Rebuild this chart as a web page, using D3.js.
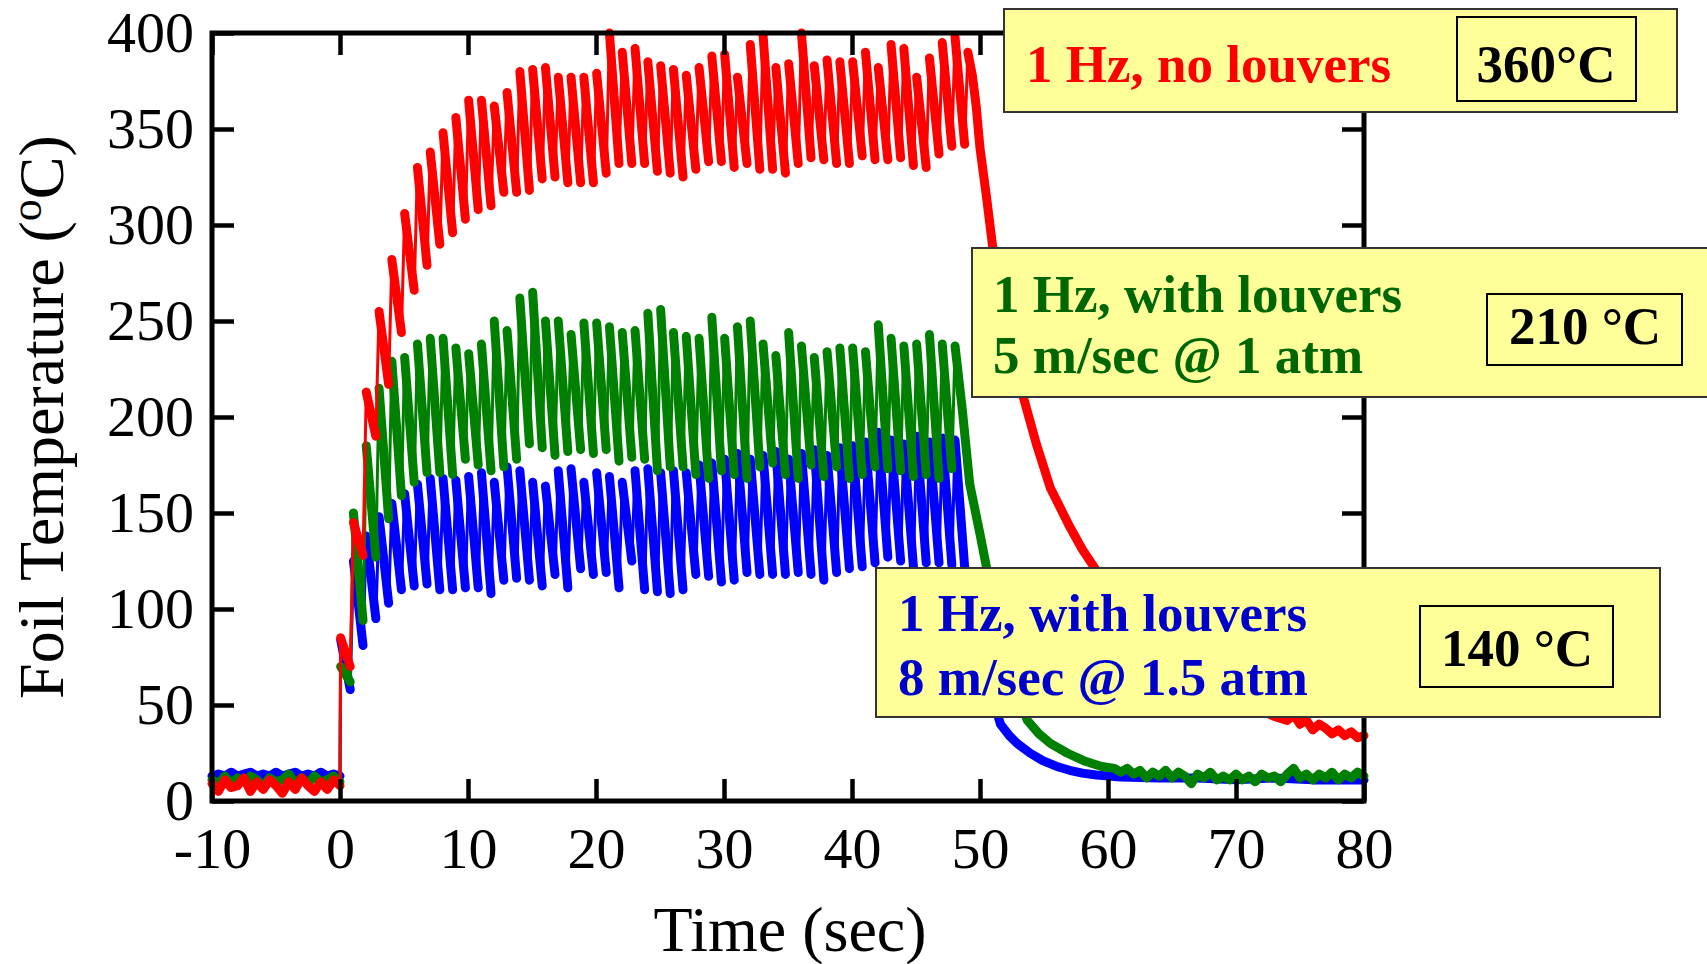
<!DOCTYPE html>
<html>
<head>
<meta charset="utf-8">
<script src="https://cdn.jsdelivr.net/npm/d3@7"></script>
<style>
body{margin:0;background:#fff}
svg{display:block}
</style>
</head>
<body>
<script>
// tick labels
var xTicks = [-10, 0, 10, 20, 30, 40, 50, 60, 70, 80];
var yTicks = [0, 50, 100, 150, 200, 250, 300, 350, 400];

// pre-pulse baseline, sampled every 0.5 s from -10 to 0
var redBase   = [9,5,11,7,8,12,5,10,6,11,8,4,10,6,12,8,5,10,6,11,8];
var greenBase = [11,9,13,9,12,10,13,11,8,12,10,11,14,9,12,9,13,10,11,13,10];
var blueBase  = [13,14,13,15,13,14,15,13,14,13,15,13,14,15,13,14,13,15,13,14,13];

// 1 Hz pulses: peak of each cycle (cycle k starts at t = k s) and the trough it falls to
var redPeaks = [85,145,213,255,282,306,330,338,348,356,
                365,365,362,369,380,381,382,377,377,377,
                379,400,390,392,385,383,381,378,382,388,
                389,377,394,399,382,384,400,383,386,385,
                385,390,382,394,392,377,387,395,398,390];
var redTroughs = [70,128,190,217,244,266,279,290,296,303,
                  308,310,317,317,318,324,325,322,322,322,
                  327,332,332,332,328,327,325,329,333,333,
                  330,332,329,329,327,332,335,334,332,332,
                  336,334,334,335,331,330,337,341,342];

var greenPeaks = [70,150,185,215,229,231,238,241,241,236,
                  233,238,250,245,262,265,250,250,243,249,
                  249,247,244,245,254,256,244,242,241,252,
                  241,247,250,238,232,244,237,231,234,236,
                  236,234,248,241,237,238,243,238,237];
var greenTroughs = [62,94,127,147,159,166,171,171,170,178,
                    175,172,174,178,186,184,180,182,183,181,
                    183,177,179,178,172,174,174,170,168,172,
                    170,168,174,176,170,168,175,169,174,168,
                    170,174,173,172,169,170,168,173];

var bluePeaks = [84,125,138,148,155,160,165,168,168,167,
                 169,171,166,174,172,166,164,172,173,166,
                 171,169,166,172,173,171,172,171,175,176,
                 178,181,178,180,182,178,181,183,180,184,
                 185,187,192,188,186,190,187,189,188];
var blueTroughs = [58,81,95,103,110,112,113,110,110,111,
                   111,108,115,116,115,112,118,111,121,118,
                   119,111,125,110,109,108,110,118,117,114,
                   115,119,118,118,118,119,118,115,119,121,
                   122,124,127,125,122,124,124,123];

// cool-down after the last pulse: [time, temperature]
var redCool = [[49.4,378],[49.7,362],[50.0,340],[50.5,315],[51.0,288],[52.0,250],[52.9,225],
               [53.4,210],[54.4,186],[55.5,163],[57.0,143],[58.0,131],[59.0,121],[60,112],
               [62,97],[64,84],[66,72],[68,62],[70,54],[72,47],[73,44],[74,42],[74.5,45],
               [75,40],[75.5,42],[76,37],[76.5,40],[77,38],[77.5,35],[78,37],[78.5,34],
               [79,36],[79.5,33],[80,34]];
var greenCool = [[48.6,205],[49.2,165],[50.0,139],[50.5,122],[51.2,98],[52.0,75],[52.8,57],
                 [53.7,42],[54.6,35],[55.5,30],[56.8,25],[58.1,21],[59.5,18],[60.5,17],[61,15],
                 [61.5,17],[62,14],[62.5,16],[63,12],[63.5,15],[64,13],[64.5,16],[65,12],
                 [65.5,15],[66,13],[66.5,9],[67,14],[67.5,12],[68,15],[68.5,11],[69,13],
                 [69.5,11],[70,14],[70.5,11],[71,13],[71.5,10],[72,14],[72.5,12],[73,13],
                 [73.5,10],[74,14],[74.5,17],[75,12],[75.5,14],[76,11],[76.5,14],[77,12],
                 [77.5,15],[78,11],[78.5,14],[79,12],[79.5,15],[80,13]];
var blueCool = [[48.8,122],[49.3,108],[50.0,85],[50.8,58],[51.6,40],[52.3,34],[52.9,30],
                [53.9,25],[54.9,21],[56,18],[57.0,16],[58,14.5],[59.1,13.5],[61,12.5],
                [64,12],[67,12],[70,11],[73,12],[76,11],[80,11]];

// annotation boxes
var boxLines  = [["1 Hz, no louvers"], ["1 Hz, with louvers", "5 m/sec @ 1 atm"], ["1 Hz, with louvers", "8 m/sec @ 1.5 atm"]];
var boxTemps  = ["360°C", "210 °C", "140 °C"];
var boxColors = ["#ff0000", "#006600", "#0000cc"];

var W = 1707, H = 964;
var serif = "'Liberation Serif','Times New Roman',serif";

var svg = d3.select("body").append("svg")
    .attr("width", W)
    .attr("height", H);

var x = d3.scaleLinear().domain([-10, 80]).range([212, 1364]);
var y = d3.scaleLinear().domain([0, 400]).range([801, 33]);

var line = d3.line()
    .x(function(d){ return x(d[0]); })
    .y(function(d){ return y(d[1]); });

function build(base, peaks, troughs, cool){
	var bt = d3.range(-10, 0.001, 0.5);
	var basePts = base.map(function(v, i){ return [bt[i], v]; });
	var all = basePts.slice();
	var thick = [basePts];
	peaks.forEach(function(p, i){
		var P = [i + 0.05, p];
		all.push(P);
		if (i < troughs.length){
			var T = [i + 0.8, troughs[i]];
			all.push(T);
			thick.push([P, T]);
		} else {
			all = all.concat(cool);
			thick.push([P].concat(cool));
		}
	});
	return {all: all, thick: thick};
}

var series = [
	{c: "#0000ff", s: build(blueBase, bluePeaks, blueTroughs, blueCool)},
	{c: "#008000", s: build(greenBase, greenPeaks, greenTroughs, greenCool)},
	{c: "#ff0000", s: build(redBase, redPeaks, redTroughs, redCool)}
];

var plot = svg.append("g");
series.forEach(function(sr){
	var g = plot.append("g");
	g.append("path")
		.attr("d", line(sr.s.all))
		.attr("fill", "none")
		.attr("stroke", sr.c)
		.attr("stroke-width", 3)
		.attr("stroke-linejoin", "round");
	g.selectAll("path.seg")
		.data(sr.s.thick)
		.enter().append("path")
		.attr("class", "seg")
		.attr("d", line)
		.attr("fill", "none")
		.attr("stroke", sr.c)
		.attr("stroke-width", 9)
		.attr("stroke-linecap", "round")
		.attr("stroke-linejoin", "round");
});

// axes, ticks point inward on all four sides
function styleAxis(g){
	g.select(".domain").remove();
	g.selectAll(".tick line").attr("stroke", "#000").attr("stroke-width", 4.5);
	g.selectAll(".tick text")
		.attr("fill", "#000")
		.style("font-family", serif)
		.style("font-size", "58px");
}

var fmt = function(d){ return String(d); };

svg.append("g")
    .attr("transform", "translate(0,801)")
    .call(d3.axisBottom(x).tickValues(xTicks).tickSize(-22).tickPadding(26).tickFormat(fmt))
    .call(styleAxis);
svg.append("g")
    .attr("transform", "translate(0,33)")
    .call(d3.axisTop(x).tickValues(xTicks).tickSize(-22).tickFormat(""))
    .call(styleAxis);
svg.append("g")
    .attr("transform", "translate(212,0)")
    .call(d3.axisLeft(y).tickValues(yTicks).tickSize(-22).tickPadding(18).tickFormat(fmt))
    .call(styleAxis);
svg.append("g")
    .attr("transform", "translate(1364,0)")
    .call(d3.axisRight(y).tickValues(yTicks).tickSize(-22).tickFormat(""))
    .call(styleAxis);

svg.append("rect")
    .attr("x", 212).attr("y", 33)
    .attr("width", 1152).attr("height", 768)
    .attr("fill", "none")
    .attr("stroke", "#000")
    .attr("stroke-width", 5);

// axis titles
svg.append("text")
    .attr("x", 790).attr("y", 951)
    .attr("text-anchor", "middle")
    .style("font-family", serif)
    .style("font-size", "64px")
    .text("Time (sec)");

var yt = svg.append("text")
    .attr("transform", "translate(63,417) rotate(-90)")
    .attr("text-anchor", "middle")
    .style("font-family", serif)
    .style("font-size", "64px");
yt.append("tspan").text("Foil Temperature (");
yt.append("tspan").attr("dy", -22).style("font-size", "44px").text("o");
yt.append("tspan").attr("dy", 22).text("C)");

// annotation boxes
var boxes = [
	{x: 1004, y: 9,   w: 673, h: 103, tx: 1026, ty: [82],
	 ix: 1457, iy: 17,  iw: 179, ih: 84, icx: 1546, ity: 82},
	{x: 972,  y: 248, w: 740, h: 149, tx: 993,  ty: [312, 373],
	 ix: 1487, iy: 294, iw: 195, ih: 71, icx: 1585, ity: 344},
	{x: 876,  y: 568, w: 784, h: 149, tx: 898,  ty: [631, 695],
	 ix: 1420, iy: 606, iw: 193, ih: 81, icx: 1517, ity: 666}
];

boxes.forEach(function(b, i){
	var g = svg.append("g");
	g.append("rect")
		.attr("x", b.x).attr("y", b.y)
		.attr("width", b.w).attr("height", b.h)
		.attr("fill", "#ffff99")
		.attr("stroke", "#333")
		.attr("stroke-width", 2);
	boxLines[i].forEach(function(t, j){
		g.append("text")
			.attr("x", b.tx).attr("y", b.ty[j])
			.attr("fill", boxColors[i])
			.style("font-family", serif)
			.style("font-weight", "bold")
			.style("font-size", "53px")
			.text(t);
	});
	g.append("rect")
		.attr("x", b.ix).attr("y", b.iy)
		.attr("width", b.iw).attr("height", b.ih)
		.attr("fill", "none")
		.attr("stroke", "#000")
		.attr("stroke-width", 2);
	g.append("text")
		.attr("x", b.icx).attr("y", b.ity)
		.attr("text-anchor", "middle")
		.attr("fill", "#000")
		.style("font-family", serif)
		.style("font-weight", "bold")
		.style("font-size", "53px")
		.text(boxTemps[i]);
});
</script>
</body>
</html>
